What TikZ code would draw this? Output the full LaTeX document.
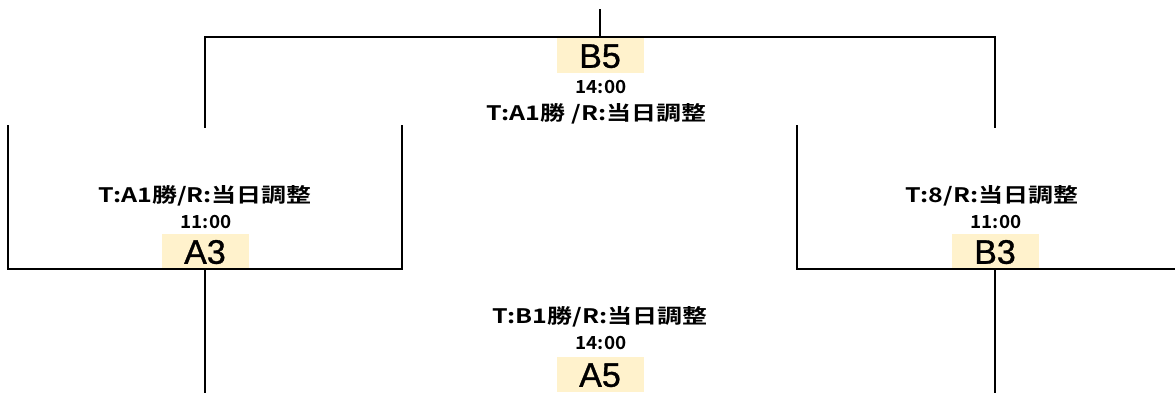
\documentclass[tikz,border=0pt]{standalone}
\usepackage{fontspec}
\setmainfont{Noto Sans CJK JP}
\newfontfamily\labfont{Noto Sans CJK JP Bold}[FakeStretch=1.25]
\newfontfamily\timefont{Noto Sans CJK JP Bold}[FakeStretch=1.05]
\newfontfamily\bigfont{Liberation Sans}[FakeBold=1]
\definecolor{boxfill}{HTML}{FFF2CC}
\begin{document}
\begin{tikzpicture}[x=1pt,y=-1pt,
  brk/.style={line width=1.4pt, line cap=rect},
  gbox/.style={fill=boxfill, minimum width=87pt, minimum height=35pt, inner sep=0pt,
    text height=24.5pt, text depth=0pt, font=\bigfont\fontsize{34}{34}\selectfont},
  lbl/.style={anchor=base, inner sep=0pt, font=\labfont\fontsize{20}{20}\selectfont},
  tim/.style={anchor=base, inner sep=0pt, font=\timefont\fontsize{18}{18}\selectfont}]
\useasboundingbox (0,0) rectangle (1175,392);
% boxes
\node[gbox] (B5) at (600,55.5) {B5};
\node[gbox] (A3) at (205,251.5) {A3};
\node[gbox] (B3) at (995,251.5) {B3};
\node[gbox] (A5) at (600,374.5) {A5};
% labels
\node[tim] (tB5) at (601,93) {14:00};
\node[lbl] (lB5) at (596.5,120) {T:A1勝 /R:当日調整};
\node[lbl] (lA3) at (205,202) {T:A1勝/R:当日調整};
\node[tim] (tA3) at (206,228) {11:00};
\node[lbl] (lB3) at (992,202) {T:8/R:当日調整};
\node[tim] (tB3) at (996,228) {11:00};
\node[lbl] (lA5) at (600,323) {T:B1勝/R:当日調整};
\node[tim] (tA5) at (601,349) {14:00};
% coordinates
\coordinate (top) at (600,10);
\coordinate (hT) at (600,37);
\coordinate (hL) at (205,37);
\coordinate (hR) at (995,37);
\coordinate (vL) at (205,127);
\coordinate (vR) at (995,127);
\coordinate (aL) at (8,126);
\coordinate (aR) at (402,126);
\coordinate (aBL) at (8,269);
\coordinate (aBR) at (402,269);
\coordinate (bL) at (797,126);
\coordinate (bBL) at (797,269);
\coordinate (bBR) at (1175,269);
\coordinate (dL) at (205,392);
\coordinate (dR) at (995,392);
% connectors
\draw[brk] (top) -- (hT);
\draw[brk] (vL) -- (hL) -- (hR) -- (vR);
\draw[brk] (aL) -- (aBL) -- (aBR) -- (aR);
\draw[brk] (bL) -- (bBL) -- (bBR);
\draw[brk] (A3.south) -- (dL);
\draw[brk] (B3.south) -- (dR);
\end{tikzpicture}
\end{document}
